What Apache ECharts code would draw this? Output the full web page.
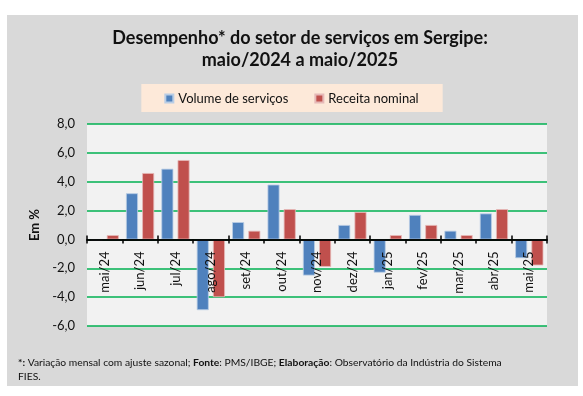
<!DOCTYPE html>
<html>
<head>
<meta charset="utf-8">
<script src="https://cdn.jsdelivr.net/npm/echarts@6/dist/echarts.min.js"></script>
<style>
  html, body { margin: 0; padding: 0; background: #fff; }
  #chart { width: 583px; height: 396px; }
</style>
</head>
<body>
<div id="chart"></div>
<script>
// dados
var meses = ['mai/24','jun/24','jul/24','ago/24','set/24','out/24','nov/24','dez/24','jan/25','fev/25','mar/25','abr/25','mai/25'];
var volume = [-0.1, 3.2, 4.9, -4.9, 1.2, 3.8, -2.5, 1.0, -2.3, 1.7, 0.6, 1.8, -1.3];
var receita = [0.3, 4.6, 5.5, -4.0, 0.6, 2.1, -1.9, 1.9, 0.3, 1.0, 0.3, 2.1, -1.8];

var fonte = 'Lato';
var yMin = -6, yMax = 8;
var gridTop = 124, gridBottom = 70, alturaTotal = 396;

function virgula(v){
    return v.toFixed(1).replace('.', ',');
}

// distância da base do grid até a linha do zero (eixo x fica no zero)
var alturaGrid = alturaTotal - gridTop - gridBottom;
var deslocZero = -(alturaGrid * (0 - yMin) / (yMax - yMin));

var chart = echarts.init(document.getElementById('chart'));

var option = {
    animation: false,
    textStyle: { fontFamily: fonte },
    graphic: [{
        type: 'rect',
        z: -10,
        shape: { x: 7, y: 15, width: 571, height: 371 },
        style: { fill: '#d9d9d9' }
    }, {
        // título (centralizado um pouco à direita, como no original)
        type: 'text',
        x: 300,
        y: 27,
        style: {
            text: 'Desempenho* do setor de serviços em Sergipe:\nmaio/2024 a maio/2025',
            align: 'center',
            font: 'bold 18px ' + fonte,
            lineHeight: 22,
            fill: '#111'
        }
    }],
    title: [{
        text: '{b|*:} Variação mensal com ajuste sazonal; {b|Fonte}: PMS/IBGE; {b|Elaboração}: Observatório da Indústria do Sistema\nFIES.',
        left: 13,
        top: 351,
        textStyle: {
            fontFamily: fonte, fontSize: 10.3, fontWeight: 'normal', color: '#111', lineHeight: 14,
            rich: { b: { fontFamily: fonte, fontSize: 10.3, fontWeight: 'bold', color: '#111' } }
        }
    }],
    legend: {
        data: ['Volume de serviços', 'Receita nominal'],
        top: 84,
        left: 'center',
        backgroundColor: '#fde9d9',
        padding: [8, 24, 7, 23],
        itemGap: 26,
        icon: 'rect',
        itemWidth: 8,
        itemHeight: 8,
        textStyle: { fontFamily: fonte, fontSize: 13, color: '#111' }
    },
    grid: {
        left: 87, right: 36, top: gridTop, bottom: gridBottom,
        show: true, backgroundColor: '#f2f2f2', borderWidth: 0
    },
    xAxis: [{
        type: 'category',
        data: meses,
        position: 'bottom',
        offset: deslocZero,
        z: 10,
        axisLine: { onZero: false, lineStyle: { color: '#000', width: 1.5 } },
        axisTick: { show: true, length: 4, lineStyle: { color: '#000', width: 1.5 } },
        axisLabel: { rotate: 90, margin: 12, fontSize: 13, color: '#111', fontFamily: fonte }
    }, {
        type: 'category',
        data: meses,
        position: 'bottom',
        offset: deslocZero,
        z: 10,
        axisLine: { onZero: false, lineStyle: { color: '#000', width: 1.5 } },
        axisTick: { show: true, inside: true, length: 4, lineStyle: { color: '#000', width: 1.5 } },
        axisLabel: { show: false }
    }],
    yAxis: {
        type: 'value',
        min: yMin, max: yMax, interval: 2,
        name: 'Em %',
        nameLocation: 'middle',
        nameGap: 44,
        nameTextStyle: { fontFamily: fonte, fontSize: 13, fontWeight: 'bold', color: '#111' },
        axisLine: { show: false },
        axisTick: { show: false },
        axisLabel: { formatter: virgula, fontSize: 13, color: '#111', margin: 12, fontFamily: fonte },
        splitLine: { lineStyle: { color: '#00b050', width: 1.5 } }
    },
    series: [{
        name: 'Volume de serviços',
        type: 'bar',
        data: volume,
        barWidth: 12,
        barGap: '35%',
        itemStyle: { color: '#4f81bd', borderColor: '#b9cde5', borderWidth: 0.8 }
    }, {
        name: 'Receita nominal',
        type: 'bar',
        data: receita,
        barWidth: 12,
        barGap: '35%',
        itemStyle: { color: '#c0504d', borderColor: '#e6b9b8', borderWidth: 0.8 }
    }]
};

chart.setOption(option);
</script>
</body>
</html>
